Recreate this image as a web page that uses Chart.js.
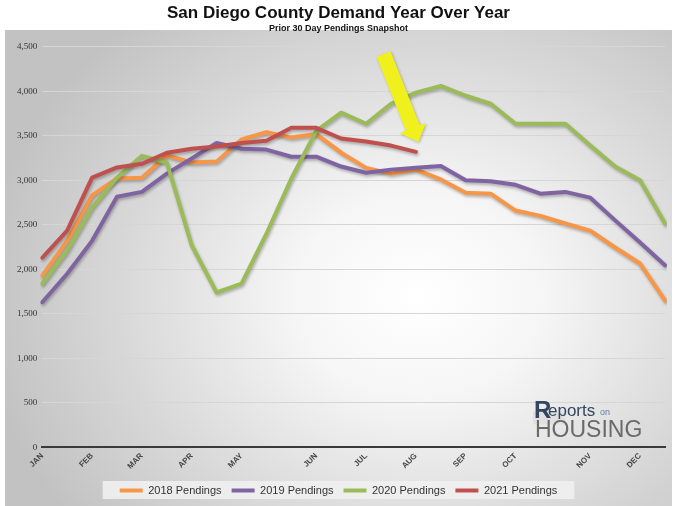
<!DOCTYPE html>
<html>
<head>
<meta charset="utf-8">
<script src="https://cdn.jsdelivr.net/npm/chart.js@4.4.1/dist/chart.umd.min.js"></script>
<style>
    html, body { margin: 0; padding: 0; background: #fff; }
    #wrap { position: relative; width: 677px; height: 506px; }
    #bg {
        position: absolute; left: 5px; top: 30px; width: 667px; height: 476px;
        background: radial-gradient(ellipse 66% 76% at 62% 56%, #ffffff 0%, #f6f6f6 28%, #d8d8d8 68%, #c2c2c2 100%);
    }
    #chart { position: absolute; left: 0; top: 0; }
</style>
</head>
<body>
<div id="wrap">
    <div id="bg"></div>
    <canvas id="chart" width="677" height="506"></canvas>
</div>
<script>
// Biweekly snapshots, month names only on the point where the month starts
const periods = ['JAN', '', 'FEB', '', 'MAR', '', 'APR', '', 'MAY', '', '', 'JUN', '', 'JUL', '',
    'AUG', '', 'SEP', '', 'OCT', '', '', 'NOV', '', 'DEC', ''];

const pendings2018 = [1930, 2320, 2830, 3020, 3030, 3280, 3200, 3210, 3460, 3540, 3480, 3520, 3310,
    3140, 3075, 3120, 3010, 2860, 2850, 2660, 2600, 2515, 2435, 2245, 2065, 1650];
const pendings2019 = [1630, 1950, 2320, 2815, 2870, 3075, 3245, 3420, 3355, 3345, 3265, 3265, 3155,
    3085, 3120, 3140, 3160, 3000, 2990, 2950, 2850, 2870, 2805, 2550, 2300, 2045];
const pendings2020 = [1840, 2210, 2695, 3030, 3275, 3200, 2270, 1740, 1840, 2400, 3020, 3555, 3760,
    3635, 3860, 3985, 4060, 3950, 3860, 3635, 3635, 3635, 3390, 3155, 3000, 2515];
const pendings2021 = [2130, 2435, 3030, 3145, 3185, 3310, 3355, 3380, 3420, 3445, 3590, 3590, 3470,
    3435, 3390, 3320, null, null, null, null, null, null, null, null, null, null];

const yTicks = [0, 500, 1000, 1500, 2000, 2500, 3000, 3500, 4000, 4500];

// yellow arrow pointing at the latest 2021 reading (data coordinates)
const arrowFrom = { x: 13.7, y: 4420 };
const arrowTo = { x: 15.1, y: 3430 };

const legendBox = {
    id: 'legendBox',
    beforeDraw(chart) {
        const boxes = chart.legend && chart.legend.legendHitBoxes;
        if (!boxes || !boxes.length) return;
        const left = Math.min(...boxes.map(b => b.left)) - 17;
        const right = Math.max(...boxes.map(b => b.left + b.width)) + 17;
        const top = Math.min(...boxes.map(b => b.top)) - 4;
        const bottom = Math.max(...boxes.map(b => b.top + b.height)) + 3;
        const ctx = chart.ctx;
        ctx.save();
        ctx.fillStyle = 'rgba(240, 240, 240, 0.9)';
        ctx.fillRect(left, top, right - left, bottom - top);
        ctx.restore();
    }
};

const lineShadow = {
    id: 'lineShadow',
    beforeDatasetsDraw(chart) {
        const ctx = chart.ctx;
        ctx.save();
        ctx.shadowColor = 'rgba(0, 0, 0, 0.28)';
        ctx.shadowBlur = 3;
        ctx.shadowOffsetX = 1;
        ctx.shadowOffsetY = 2;
    },
    afterDatasetsDraw(chart) {
        chart.ctx.restore();
    }
};

const decorations = {
    id: 'decorations',
    afterDraw(chart) {
        const ctx = chart.ctx;
        const xs = chart.scales.x, ys = chart.scales.y;
        const area = chart.chartArea;

        // arrow
        const tx = xs.getPixelForValue(arrowFrom.x), ty = ys.getPixelForValue(arrowFrom.y);
        const px = xs.getPixelForValue(arrowTo.x), py = ys.getPixelForValue(arrowTo.y);
        const len = Math.hypot(px - tx, py - ty);
        const ux = (px - tx) / len, uy = (py - ty) / len;
        const nx = -uy, ny = ux;
        const hw = 7.5, hh = 14, hl = 15;
        const hx = px - ux * hl, hy = py - uy * hl;
        ctx.save();
        ctx.shadowColor = 'rgba(0, 0, 0, 0.25)';
        ctx.shadowBlur = 3;
        ctx.shadowOffsetX = 1;
        ctx.shadowOffsetY = 1;
        ctx.beginPath();
        ctx.moveTo(tx + nx * hw, ty + ny * hw);
        ctx.lineTo(hx + nx * hw, hy + ny * hw);
        ctx.lineTo(hx + nx * hh, hy + ny * hh);
        ctx.lineTo(px, py);
        ctx.lineTo(hx - nx * hh, hy - ny * hh);
        ctx.lineTo(hx - nx * hw, hy - ny * hw);
        ctx.lineTo(tx - nx * hw, ty - ny * hw);
        ctx.closePath();
        ctx.fillStyle = '#f0f01c';
        ctx.fill();
        ctx.restore();

        // logo, anchored to the bottom right of the plot
        const lx = area.right - 130, ly = area.bottom - 10;
        ctx.save();
        ctx.fillStyle = 'rgba(222, 222, 222, 0.85)';
        ctx.fillRect(lx - 2, ly - 26, 32, 13);
        ctx.textBaseline = 'alphabetic';
        ctx.fillStyle = '#6a6a6a';
        ctx.font = '23px "Liberation Sans", Arial, sans-serif';
        ctx.fillText('HOUSING', lx, ly);
        ctx.fillStyle = '#34465f';
        ctx.font = 'bold 24px "Liberation Sans", Arial, sans-serif';
        ctx.fillText('R', lx - 1, ly - 19);
        ctx.font = '17px "Liberation Sans", Arial, sans-serif';
        ctx.fillText('eports', lx + 13, ly - 21);
        ctx.fillStyle = '#5b7fa6';
        ctx.font = '9px "Liberation Sans", Arial, sans-serif';
        ctx.fillText('on', lx + 65, ly - 22);
        ctx.strokeStyle = '#34465f';
        ctx.lineWidth = 2;
        ctx.beginPath();
        ctx.moveTo(lx + 8, ly - 27);
        ctx.lineTo(lx + 13, ly - 20);
        ctx.stroke();
        ctx.restore();
    }
};

Chart.defaults.font.family = '"Liberation Sans", Arial, sans-serif';
Chart.defaults.color = '#333';

new Chart(document.getElementById('chart').getContext('2d'), {
    type: 'line',
    data: {
        labels: periods,
        datasets: [
            { label: '2018 Pendings', data: pendings2018, borderColor: '#f79646', backgroundColor: '#f79646', borderWidth: 4, order: 4 },
            { label: '2019 Pendings', data: pendings2019, borderColor: '#8064a2', backgroundColor: '#8064a2', borderWidth: 4, order: 3 },
            { label: '2020 Pendings', data: pendings2020, borderColor: '#9bbb59', backgroundColor: '#9bbb59', borderWidth: 4, order: 2 },
            { label: '2021 Pendings', data: pendings2021, borderColor: '#c0504d', backgroundColor: '#c0504d', borderWidth: 4, order: 1 }
        ]
    },
    options: {
        responsive: false,
        animation: false,
        devicePixelRatio: 1,
        layout: { padding: { left: 12, right: 12, bottom: 0, top: 0 } },
        elements: {
            line: { tension: 0, borderJoinStyle: 'round', borderCapStyle: 'round' },
            point: { radius: 0, hoverRadius: 0 }
        },
        plugins: {
            title: {
                display: true,
                text: 'San Diego County Demand Year Over Year',
                color: '#111',
                font: { size: 17, weight: 'bold', lineHeight: 1.0 },
                padding: { top: 5, bottom: 0 }
            },
            subtitle: {
                display: true,
                text: 'Prior 30 Day Pendings Snapshot',
                color: '#111',
                font: { size: 9, weight: 'bold', lineHeight: 1.2 },
                padding: { top: 1, bottom: 13 }
            },
            legend: {
                position: 'bottom',
                labels: {
                    usePointStyle: true,
                    pointStyle: 'line',
                    pointStyleWidth: 23,
                    padding: 10,
                    color: '#333',
                    font: { size: 11 },
                    sort: (a, b) => a.datasetIndex - b.datasetIndex
                }
            },
            tooltip: { enabled: false }
        },
        scales: {
            x: {
                grid: { display: false, drawTicks: false },
                border: { display: true, color: '#3a3a3a', width: 2 },
                ticks: {
                    autoSkip: false,
                    maxRotation: 45,
                    minRotation: 45,
                    padding: 4,
                    color: '#444',
                    font: { size: 8, weight: 'bold' }
                }
            },
            y: {
                min: 0,
                max: 4500,
                afterBuildTicks: (axis) => { axis.ticks = yTicks.map(v => ({ value: v })); },
                grid: { color: '#d6d6d6', lineWidth: 1, drawTicks: false },
                border: { display: false },
                ticks: {
                    padding: 5,
                    color: '#333',
                    font: { family: '"Liberation Serif", "Times New Roman", serif', size: 9 },
                    callback: (v) => v.toLocaleString('en-US')
                }
            }
        }
    },
    plugins: [legendBox, lineShadow, decorations]
});
</script>
</body>
</html>
